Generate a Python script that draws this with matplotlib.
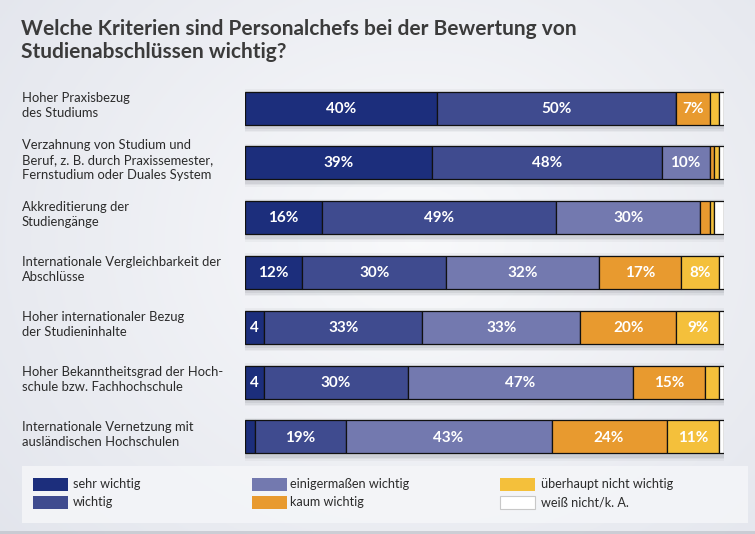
import numpy as np
import matplotlib
matplotlib.use("Agg")
import matplotlib.pyplot as plt
from matplotlib.patches import Rectangle
from matplotlib import transforms

# ---------------- data ----------------
categories = [
    "Hoher Praxisbezug\ndes Studiums",
    "Verzahnung von Studium und\nBeruf, z. B. durch Praxissemester,\nFernstudium oder Duales System",
    "Akkreditierung der\nStudiengänge",
    "Internationale Vergleichbarkeit der\nAbschlüsse",
    "Hoher internationaler Bezug\nder Studieninhalte",
    "Hoher Bekanntheitsgrad der Hoch-\nschule bzw. Fachhochschule",
    "Internationale Vernetzung mit\nausländischen Hochschulen",
]
series_names = ["sehr wichtig", "wichtig", "einigermaßen wichtig",
                "kaum wichtig", "überhaupt nicht wichtig", "weiß nicht/k. A."]
sehr_wichtig = [40, 39, 16, 12, 4, 4, 2]
wichtig = [50, 48, 49, 30, 33, 30, 19]
einigermassen = [0, 10, 30, 32, 33, 47, 43]
kaum_wichtig = [7, 1, 2, 17, 20, 15, 24]
ueberhaupt_nicht = [2, 1, 1, 8, 9, 3, 11]
weiss_nicht = [1, 1, 2, 1, 1, 1, 1]
title = "Welche Kriterien sind Personalchefs bei der Bewertung von\nStudienabschlüssen wichtig?"

colors = ["#1c2e7c", "#3f4b8f", "#7379af", "#e89a2f", "#f4c03b", "#ffffff"]
series = [sehr_wichtig, wichtig, einigermassen, kaum_wichtig, ueberhaupt_nicht, weiss_nicht]

W, H = 755, 534
fig = plt.figure(figsize=(W / 100, H / 100), dpi=100)
FONT = ["Lato", "DejaVu Sans"]

def fx(px):
    return px / W

def fy(py):
    return 1 - py / H

# ---------------- background ----------------
bg = fig.add_axes([0, 0, 1, 1], zorder=-10)
yy, xx = np.mgrid[0:1:200j, 0:1:300j]
d = np.sqrt(((xx - 0.55) / 0.75) ** 2 + ((yy - 0.45) / 0.9) ** 2)
c0 = np.array([0.975, 0.978, 0.985])
c1 = np.array([0.885, 0.895, 0.925])
t = np.clip(d, 0, 1)[..., None]
img = c0 * (1 - t) + c1 * t
bg.imshow(img, extent=[0, 1, 0, 1], aspect="auto", origin="upper")
# legend panel
bg.add_patch(Rectangle((fx(22), fy(523)), fx(748) - fx(22), fy(466) - fy(523),
                       facecolor="#f4f5f8", edgecolor="none", alpha=0.9))
bg.add_patch(Rectangle((0, 0), 1, fy(531), facecolor="#b8bbc3",
                       edgecolor="none", alpha=0.6))
bg.set_xlim(0, 1)
bg.set_ylim(0, 1)
bg.axis("off")

# ---------------- title ----------------
fig.text(fx(21), fy(19), title, ha="left", va="top", fontsize=15,
         fontweight="bold", color="#3b3b3b", family=FONT, linespacing=1.2)

# ---------------- bars ----------------
n = len(categories)
row_h = 54.83
top_px = 108 - row_h / 2
ax = fig.add_axes([fx(245), fy(top_px + n * row_h), fx(724) - fx(245), n * row_h / H])
ax.set_xlim(0, 100)
ax.set_ylim(n - 0.5, -0.5)
ax.axis("off")

ypos = np.arange(n)
bar_h = 33 / row_h
px_x = 100 / 479
px_y = 1 / row_h

# shadows
for k, a in [(5, 0.05), (3.5, 0.07), (2, 0.10)]:
    ax.barh(ypos + 2.5 * px_y, np.full(n, 100) + 2 * k * px_x - 1.5 * px_x,
            left=-k * px_x + 1.5 * px_x, height=bar_h + 2 * k * px_y,
            color="#555a66", alpha=a, edgecolor="none", zorder=1)

left = np.zeros(n)
for vals, col in zip(series, colors):
    v = np.array(vals, dtype=float)
    ax.barh(ypos, v, left=left, height=bar_h, color=col,
            edgecolor="#111111", linewidth=0.9, zorder=3)
    for i in range(n):
        if vals[i] >= 5:
            lab = f"{vals[i]}%"
        elif vals[i] == 4:
            lab = "4"
        else:
            lab = None
        if lab:
            ax.text(left[i] + v[i] / 2, ypos[i] + 0.01, lab, ha="center", va="center",
                    color="white", fontsize=11, fontweight="bold",
                    family=FONT, zorder=4)
    left += v

# category labels
trans = transforms.blended_transform_factory(fig.transFigure, ax.transData)
for i, cat in enumerate(categories):
    ax.text(fx(22), ypos[i] - 0.05, cat, transform=trans, ha="left", va="center",
            fontsize=9.4, color="#2b2b2b", family=FONT, linespacing=1.3)

# ---------------- legend ----------------
leg_cols = [(33, 73), (252, 290), (500, 541)]
leg_rows = [478, 496]
for j, (name, col) in enumerate(zip(series_names, colors)):
    cx, tx = leg_cols[j // 2]
    ry = leg_rows[j % 2]
    fig.patches.append(Rectangle((fx(cx), fy(ry + 13)), fx(35), 13 / H,
                                 transform=fig.transFigure, facecolor=col,
                                 edgecolor="#c8c8c8" if col == "#ffffff" else "none",
                                 linewidth=0.8))
    fig.text(fx(tx), fy(ry + 6.5), name, ha="left", va="center", fontsize=9.1,
             color="#2b2b2b", family=FONT)

fig.savefig("out.png", dpi=100)
